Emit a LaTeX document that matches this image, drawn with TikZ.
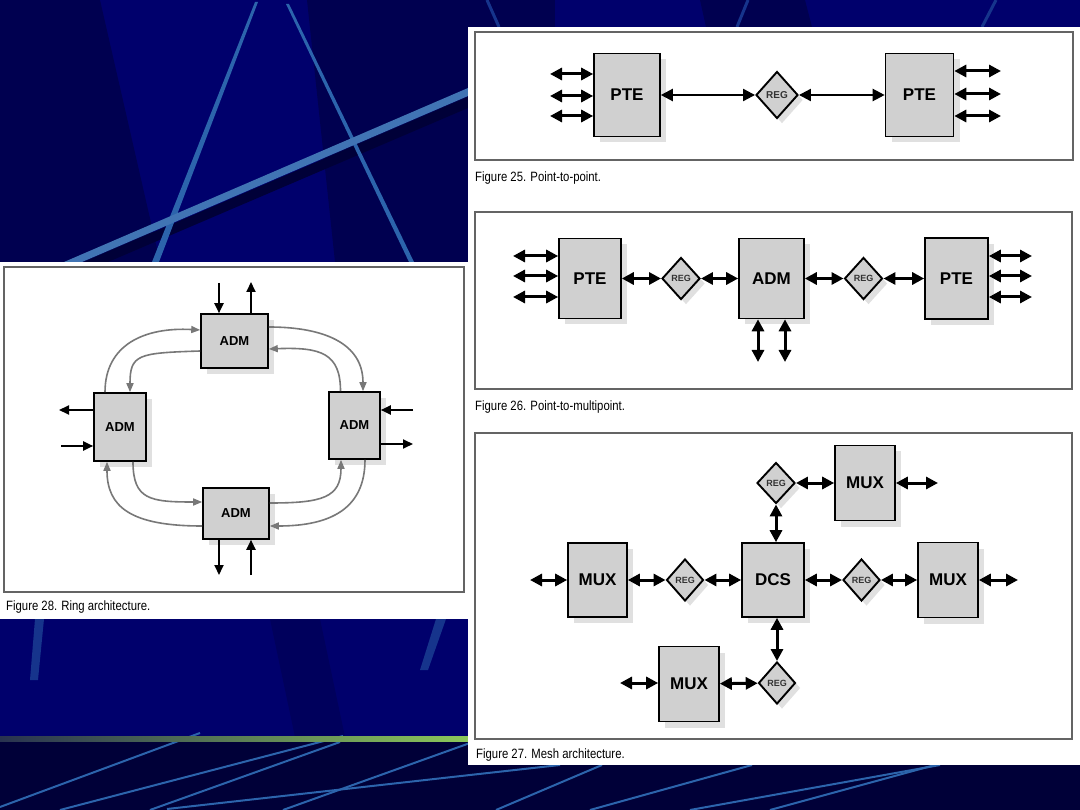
\documentclass[tikz,border=0pt]{standalone}
\usepackage{fontspec}
\setmainfont{Liberation Sans}
\newfontfamily\capfont[FakeStretch=0.84]{Liberation Sans}
\usepackage{xcolor}
\usetikzlibrary{arrows.meta, positioning, calc, shapes.geometric, shadows}

\definecolor{navy}{RGB}{0,0,108}
\definecolor{navydark}{RGB}{0,0,80}
\definecolor{navydeep}{RGB}{0,0,56}
\definecolor{streak}{RGB}{44,100,172}
\definecolor{streakfaint}{RGB}{22,52,140}
\definecolor{greendark}{RGB}{40,50,80}
\definecolor{greenlight}{RGB}{140,200,90}
\definecolor{boxgray}{RGB}{208,208,208}
\definecolor{framegray}{RGB}{100,100,100}
\definecolor{ringgray}{RGB}{120,120,120}

\begin{document}
\begin{tikzpicture}[
    x=1pt, y=-1pt,
    unitbox/.style={draw, line width=1.6pt, fill=boxgray, inner sep=0pt,
                    font=\fontsize{17}{17}\selectfont\bfseries,
                    drop shadow={shadow xshift=6pt, shadow yshift=-6pt,
                                 fill=black!12, opacity=1}},
    regbox/.style={diamond, aspect=1, draw, line width=1.9pt, fill=boxgray,
                   inner sep=0pt, text=black!80,
                   font=\fontsize{9}{9}\selectfont\bfseries,
                   drop shadow={shadow xshift=5pt, shadow yshift=-5pt,
                                fill=black!12, opacity=1}},
    twoway/.style={{Triangle[length=12pt,width=12pt]}-{Triangle[length=12pt,width=12pt]},
                   line width=3pt},
    oneway/.style={-{Triangle[length=10pt,width=9pt]}, line width=2pt},
    ringarc/.style={draw=ringgray, line width=1.6pt, -{Triangle[length=9pt,width=7pt]}},
    figframe/.style={draw=framegray, line width=1.3pt},
    figcap/.style={anchor=west, inner sep=0pt,
                   font=\capfont\fontsize{13.5}{13.5}\selectfont}
  ]
    \useasboundingbox (0,0) rectangle (1080,810);

    % slide background
    \fill[navy] (0,0) rectangle (1080,810);
    \fill[navydark] (0,0) -- (100,0) -- (160,262) -- (0,262) -- cycle;
    \fill[navydark] (307,0) -- (468,0) -- (468,262) -- (335,262) -- cycle;
    \fill[navydark] (468,0) rectangle (555,27);
    \fill[navydark] (700,0) -- (805,0) -- (812,27) -- (706,27) -- cycle;
    \fill[navy!85!black] (270,619) -- (320,619) -- (345,737) -- (295,737) -- cycle;
    \fill[navydeep] (0,737) rectangle (1080,810);
    \fill[navydeep] (84,262) -- (468,97) -- (468,108) -- (108,262) -- cycle;
    \fill[streak] (152,262) -- (159,262) -- (258,2) -- (255,2) -- cycle;
    \fill[streak] (286,4) -- (289,4) -- (414,262) -- (409,262) -- cycle;
    \fill[streak!90!white] (64,262) -- (468,88) -- (468,96) -- (82,262) -- cycle;
    \draw[streakfaint, line width=3pt] (487,0) -- (499,27);
    \draw[streakfaint, line width=3pt] (748,0) -- (737,27);
    \draw[streakfaint, line width=3pt] (996,0) -- (982,27);
    \fill[streakfaint] (35,619) -- (44,619) -- (38,680) -- (30,680) -- cycle;
    \fill[streakfaint] (436,619) -- (446,619) -- (428,670) -- (420,670) -- cycle;
    \draw[streak, line width=2pt] (0,807) -- (200,733);
    \draw[streak, line width=2pt] (60,810) -- (343,736);
    \draw[streak, line width=2pt] (150,810) -- (340,742);
    \draw[streak, line width=2pt] (167,809) -- (470,775) -- (560,765);
    \draw[streak, line width=2pt] (283,810) -- (470,743);
    \draw[streak, line width=2pt] (496,810) -- (602,765);
    \draw[streak, line width=2pt] (590,810) -- (752,765);
    \draw[streak, line width=2pt] (690,810) -- (940,765);
    \draw[streak, line width=2pt] (770,810) -- (935,765);
    \shade[left color=greendark, right color=greenlight] (0,736) rectangle (468,741);

    % white pages
    \fill[white] (468,27) rectangle (1080,765);
    \fill[white] (0,262) rectangle (468,619);

    % Figure 25
    \draw[figframe] (475,32) rectangle (1073,160);
    \node[unitbox, minimum width=66pt, minimum height=83pt] (pteA) at (627,95) {PTE};
    \node[regbox, minimum width=42pt, minimum height=47pt,
          font=\fontsize{10}{10}\selectfont\bfseries] (regA) at (777,95) {REG};
    \node[unitbox, minimum width=68pt, minimum height=83pt] (pteB) at (919.5,95) {PTE};
    \draw[twoway, line width=2.2pt] (pteA) -- (regA);
    \draw[twoway, line width=2.2pt] (regA) -- (pteB);
    \coordinate (a1) at (550,74);
    \coordinate (a2) at (550,96);
    \coordinate (a3) at (550,116);
    \draw[twoway] (a1) -- (a1 -| pteA.west);
    \draw[twoway] (a2) -- (a2 -| pteA.west);
    \draw[twoway] (a3) -- (a3 -| pteA.west);
    \coordinate (b1) at (1001,71);
    \coordinate (b2) at (1001,94);
    \coordinate (b3) at (1001,116);
    \draw[twoway] (b1 -| pteB.east) -- (b1);
    \draw[twoway] (b2 -| pteB.east) -- (b2);
    \draw[twoway] (b3 -| pteB.east) -- (b3);
    \node[figcap] (cap25) at (475,178) {Figure 25. Point-to-point.};

    % Figure 26
    \draw[figframe] (475,212) rectangle (1072,389);
    \node[unitbox, minimum width=62pt, minimum height=80pt] (pteC) at (590,278.5) {PTE};
    \node[regbox, minimum width=38pt, minimum height=42pt] (regC) at (681,278.5) {REG};
    \node[unitbox, minimum width=65pt, minimum height=80pt] (admC) at (771.5,278.5) {ADM};
    \node[regbox, minimum width=38pt, minimum height=42pt] (regD) at (863.5,278.5) {REG};
    \node[unitbox, minimum width=63pt, minimum height=81pt] (pteD) at (956.5,278.5) {PTE};
    \draw[twoway] (pteC) -- (regC);
    \draw[twoway] (regC) -- (admC);
    \draw[twoway] (admC) -- (regD);
    \draw[twoway] (regD) -- (pteD);
    \coordinate (c1) at (513,256);
    \coordinate (c2) at (513,276);
    \coordinate (c3) at (513,297);
    \draw[twoway] (c1) -- (c1 -| pteC.west);
    \draw[twoway] (c2) -- (c2 -| pteC.west);
    \draw[twoway] (c3) -- (c3 -| pteC.west);
    \coordinate (d1) at (1032,256);
    \coordinate (d2) at (1032,276);
    \coordinate (d3) at (1032,297);
    \draw[twoway] (d1 -| pteD.east) -- (d1);
    \draw[twoway] (d2 -| pteD.east) -- (d2);
    \draw[twoway] (d3 -| pteD.east) -- (d3);
    \coordinate (e1) at (758,362);
    \coordinate (e2) at (785,362);
    \draw[twoway] (e1 |- admC.south) -- (e1);
    \draw[twoway] (e2 |- admC.south) -- (e2);
    \node[figcap] (cap26) at (475,407) {Figure 26. Point-to-multipoint.};

    % Figure 27
    \draw[figframe] (475,433) rectangle (1072,739);
    \node[unitbox, minimum width=60pt, minimum height=75pt] (muxT) at (865,483) {MUX};
    \node[regbox, minimum width=38pt, minimum height=41pt] (regT) at (776,483) {REG};
    \node[unitbox, minimum width=62pt, minimum height=74pt] (dcs) at (773,580) {DCS};
    \node[unitbox, minimum width=59pt, minimum height=74pt] (muxL) at (597.5,580) {MUX};
    \node[regbox, minimum width=37pt, minimum height=42pt] (regL) at (685,580) {REG};
    \node[regbox, minimum width=37pt, minimum height=42pt] (regR) at (861.5,580) {REG};
    \node[unitbox, minimum width=60pt, minimum height=75pt] (muxR) at (948,580) {MUX};
    \node[regbox, minimum width=37pt, minimum height=42pt] (regB) at (777,683) {REG};
    \node[unitbox, minimum width=60pt, minimum height=75pt] (muxB) at (689,684) {MUX};
    \draw[twoway] (regT) -- (muxT);
    \draw[twoway] (regT) -- (regT |- dcs.north);
    \draw[twoway] (muxL) -- (regL);
    \draw[twoway] (regL) -- (dcs);
    \draw[twoway] (dcs) -- (regR);
    \draw[twoway] (regR) -- (muxR);
    \draw[twoway] (regB |- dcs.south) -- (regB);
    \draw[twoway] (muxB) -- (regB);
    \coordinate (m1) at (530,580);
    \coordinate (m2) at (1018,580);
    \coordinate (m3) at (938,483);
    \coordinate (m4) at (620,683);
    \draw[twoway] (m1) -- (muxL);
    \draw[twoway] (muxR) -- (m2);
    \draw[twoway] (muxT) -- (m3);
    \draw[twoway] (m4) -- (m4 -| muxB.west);
    \node[figcap] (cap27) at (476,755) {Figure 27. Mesh architecture.};

    % Figure 28
    \draw[figframe] (4,267) rectangle (464,592);
    \node[unitbox, minimum width=67pt, minimum height=54pt,
          font=\fontsize{13}{13}\selectfont\bfseries] (admT) at (234.5,341) {ADM};
    \node[unitbox, minimum width=52pt, minimum height=68pt,
          font=\fontsize{13}{13}\selectfont\bfseries] (admL) at (120,427) {ADM};
    \node[unitbox, minimum width=51pt, minimum height=67pt,
          font=\fontsize{13}{13}\selectfont\bfseries] (admR) at (354.5,425.5) {ADM};
    \node[unitbox, minimum width=66pt, minimum height=51pt,
          font=\fontsize{13}{13}\selectfont\bfseries] (admB) at (236,513.5) {ADM};
    \draw[ringarc] ([xshift=-15pt]admL.north) .. controls +(0,-48) and +(-55,-3) .. ([yshift=11pt]admT.west);
    \draw[ringarc] ([yshift=-10pt]admT.west) .. controls +(-62,2) and +(0,-38) .. ([xshift=10pt]admL.north);
    \draw[ringarc] ([yshift=14pt]admT.east) .. controls +(55,0) and +(0,-48) .. ([xshift=8.5pt]admR.north);
    \draw[ringarc] ([xshift=-14pt]admR.north) .. controls +(0,-38) and +(52,-2) .. ([yshift=-8pt]admT.east);
    \draw[ringarc] ([yshift=-12.5pt]admB.west) .. controls +(-72,0) and +(0,45) .. ([xshift=-13pt]admL.south);
    \draw[ringarc] ([xshift=13pt]admL.south) .. controls +(0,38) and +(-52,0) .. ([yshift=11.5pt]admB.west);
    \draw[ringarc] ([yshift=10.5pt]admB.east) .. controls +(52,0) and +(0,38) .. ([xshift=-13.5pt]admR.south);
    \draw[ringarc] ([xshift=10.5pt]admR.south) .. controls +(0,48) and +(62,0) .. ([yshift=-12.5pt]admB.east);
    \coordinate (r1) at (219,283);
    \coordinate (r2) at (251,282);
    \coordinate (r3) at (59,410);
    \coordinate (r4) at (61,446);
    \coordinate (r5) at (413,410);
    \coordinate (r6) at (413,444);
    \coordinate (r7) at (219,575);
    \coordinate (r8) at (251,575);
    \draw[oneway] (r1) -- (r1 |- admT.north);
    \draw[oneway] (r2 |- admT.north) -- (r2);
    \draw[oneway] (r3 -| admL.west) -- (r3);
    \draw[oneway] (r4) -- (r4 -| admL.west);
    \draw[oneway] (r5) -- (r5 -| admR.east);
    \draw[oneway] (r6 -| admR.east) -- (r6);
    \draw[oneway] (r7 |- admB.south) -- (r7);
    \draw[oneway] (r8) -- (r8 |- admB.south);
    \node[figcap] (cap28) at (6,607) {Figure 28. Ring architecture.};
  \end{tikzpicture}
\end{document}
